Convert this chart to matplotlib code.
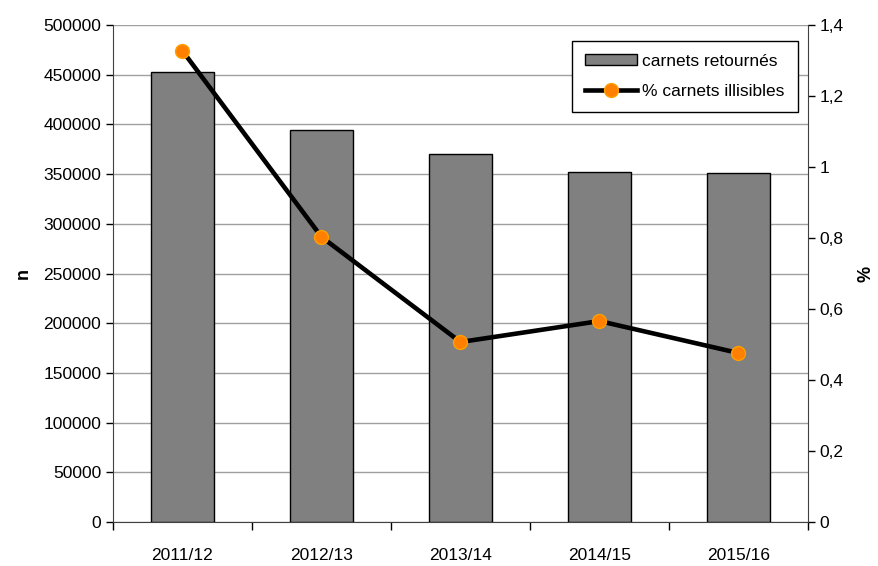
import matplotlib
matplotlib.use("Agg")
import matplotlib.pyplot as plt
from matplotlib.ticker import FuncFormatter

plt.rcParams["font.family"] = ["Liberation Sans", "DejaVu Sans"]

seasons = ["2011/12", "2012/13", "2013/14", "2014/15", "2015/16"]
carnets_retournes = [453000, 394500, 370000, 352000, 351000]
pct_illisibles = [1.327, 0.803, 0.507, 0.566, 0.476]

fig = plt.figure(figsize=(8.79, 5.66), dpi=100)
ax = fig.add_axes([113 / 879, 1 - 522 / 566, 695 / 879, 497 / 566])
x = list(range(len(seasons)))

ax.bar(x, carnets_retournes, width=0.46, color="#808080", edgecolor="black", linewidth=1.0, zorder=3,
       label="carnets retournés")
ax.set_xlim(-0.5, len(seasons) - 0.5)
ax.set_ylim(0, 500000)
ax.set_yticks(range(0, 500001, 50000))
ax.yaxis.grid(True, color="#a0a0a0", linewidth=1.0, zorder=0)
ax.set_xticks([i - 0.5 for i in range(len(seasons) + 1)], minor=False)
ax.set_xticklabels([])
ax.set_xticks(x, minor=True)
ax.set_xticklabels(seasons, minor=True)
ax.tick_params(axis="x", which="major", length=6, width=1, color="black", direction="out")
ax.tick_params(axis="x", which="minor", length=0, pad=19, labelsize=12.5)
ax.tick_params(axis="y", length=5, width=1, labelsize=12.5)
ax.set_ylabel("n", fontsize=13, fontweight="bold", labelpad=8)
ax.spines["top"].set_visible(False)
ax.spines["right"].set_visible(False)
for side in ("left", "bottom"):
    ax.spines[side].set_color("#404040")

ax2 = ax.twinx()
ax2.plot(x, pct_illisibles, color="black", linewidth=3.3, marker="o", markersize=10,
         markerfacecolor="#ff7f00", markeredgecolor="#ffa000", markeredgewidth=1, zorder=4,
         label="% carnets illisibles")
ax2.set_ylim(0, 1.4)
ax2.set_yticks([0, 0.2, 0.4, 0.6, 0.8, 1.0, 1.2, 1.4])
ax2.yaxis.set_major_formatter(FuncFormatter(lambda v, p: ("%g" % round(v, 1)).replace(".", ",")))
ax2.tick_params(axis="y", length=5, width=1, labelsize=12.5)
ax2.set_ylabel("%", fontsize=13, fontweight="bold", labelpad=10)
ax2.spines["top"].set_visible(False)
ax2.spines["left"].set_visible(False)
ax2.spines["bottom"].set_visible(False)
ax2.spines["right"].set_color("#404040")

h1, l1 = ax.get_legend_handles_labels()
h2, l2 = ax2.get_legend_handles_labels()
leg = ax2.legend(h1 + h2, l1 + l2, loc="upper right", bbox_to_anchor=(0.99, 0.975), fontsize=12.5,
                 frameon=True, fancybox=False, edgecolor="black", framealpha=1,
                 handlelength=3.0, handleheight=0.6, borderpad=0.75, labelspacing=0.85,
                 handletextpad=0.3, borderaxespad=0.2)
leg.get_frame().set_linewidth(1.0)

fig.savefig("out.png", dpi=100)
